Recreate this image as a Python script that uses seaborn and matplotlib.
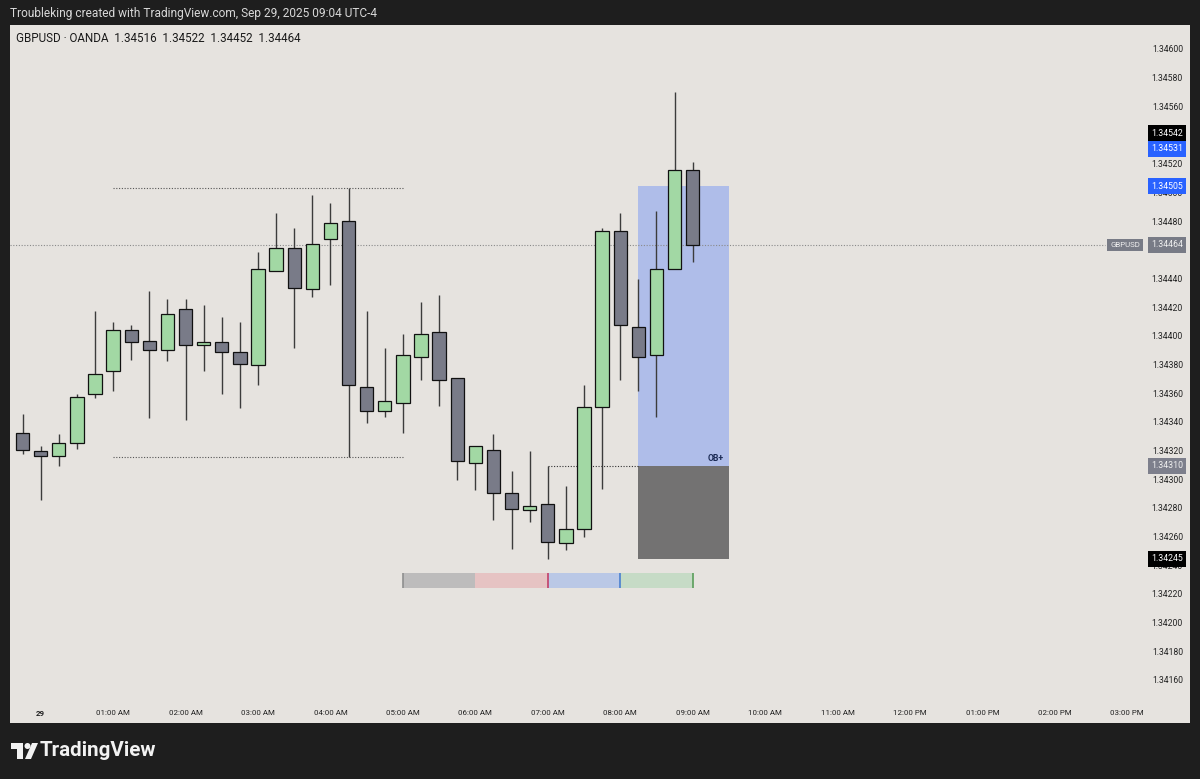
import numpy as np
import pandas as pd
import matplotlib
matplotlib.use("Agg")
import matplotlib.pyplot as plt
import matplotlib.patches as mpatches
import matplotlib.transforms as mtransforms
import seaborn as sns

# ---------------- data ----------------
times = ["23:45", "00:00", "00:15", "00:30", "00:45", "01:00", "01:15", "01:30", "01:45",
         "02:00", "02:15", "02:30", "02:45", "03:00", "03:15", "03:30", "03:45", "04:00",
         "04:15", "04:30", "04:45", "05:00", "05:15", "05:30", "05:45", "06:00", "06:15",
         "06:30", "06:45", "07:00", "07:15", "07:30", "07:45", "08:00", "08:15", "08:30",
         "08:45", "09:00"]
opens = [1.34333, 1.34320, 1.34317, 1.34326, 1.34360, 1.34376, 1.34405, 1.34397, 1.34391,
         1.34419, 1.34394, 1.34396, 1.34389, 1.34380, 1.34446, 1.34462, 1.34433, 1.34468,
         1.34481, 1.34365, 1.34348, 1.34354, 1.34386, 1.34403, 1.34371, 1.34312, 1.34321,
         1.34291, 1.34279, 1.34283, 1.34256, 1.34266, 1.34351, 1.34474, 1.34407, 1.34387,
         1.34447, 1.34516]
highs = [1.34346, 1.34324, 1.34332, 1.34360, 1.34418, 1.34410, 1.34408, 1.34432, 1.34426,
         1.34426, 1.34422, 1.34414, 1.34410, 1.34459, 1.34486, 1.34476, 1.34499, 1.34493,
         1.34504, 1.34418, 1.34392, 1.34402, 1.34424, 1.34429, 1.34371, 1.34324, 1.34332,
         1.34306, 1.34320, 1.34310, 1.34296, 1.34366, 1.34476, 1.34486, 1.34440, 1.34488,
         1.34571, 1.34522]
lows = [1.34318, 1.34286, 1.34310, 1.34322, 1.34357, 1.34362, 1.34384, 1.34343, 1.34383,
        1.34342, 1.34376, 1.34360, 1.34350, 1.34366, 1.34446, 1.34392, 1.34428, 1.34436,
        1.34316, 1.34340, 1.34344, 1.34333, 1.34370, 1.34352, 1.34300, 1.34293, 1.34272,
        1.34252, 1.34271, 1.34245, 1.34251, 1.34260, 1.34294, 1.34370, 1.34362, 1.34344,
        1.34447, 1.34452]
closes = [1.34321, 1.34317, 1.34326, 1.34358, 1.34374, 1.34405, 1.34396, 1.34391, 1.34416,
          1.34394, 1.34396, 1.34389, 1.34381, 1.34447, 1.34462, 1.34434, 1.34465, 1.34479,
          1.34366, 1.34348, 1.34355, 1.34387, 1.34402, 1.34370, 1.34313, 1.34324, 1.34291,
          1.34280, 1.34282, 1.34257, 1.34266, 1.34351, 1.34474, 1.34408, 1.34386, 1.34447,
          1.34516, 1.34464]

price_ticks = [1.34160, 1.34180, 1.34200, 1.34220, 1.34240, 1.34260, 1.34280, 1.34300,
               1.34320, 1.34340, 1.34360, 1.34380, 1.34400, 1.34420, 1.34440, 1.34460,
               1.34480, 1.34500, 1.34520, 1.34540, 1.34560, 1.34580, 1.34600]
time_ticks = [0, 1, 2, 3, 4, 5, 6, 7, 8, 9, 10, 11, 12, 13, 14, 15]
time_labels = ["29", "01:00 AM", "02:00 AM", "03:00 AM", "04:00 AM", "05:00 AM", "06:00 AM",
               "07:00 AM", "08:00 AM", "09:00 AM", "10:00 AM", "11:00 AM", "12:00 PM",
               "01:00 PM", "02:00 PM", "03:00 PM"]

range_high = 1.34504
range_low = 1.34316
range_start, range_end = 1.0, 5.0
ob_top, ob_mid, ob_bottom = 1.34505, 1.34310, 1.34245
ob_start, ob_end = 8.25, 9.5
ob_line_start = 7.0
last_price = 1.34464
strip_times = [5.0, 6.0, 7.0, 8.0, 9.0]
strip_colors = ["#bdbcbc", "#e6c3c3", "#bac8e6", "#c6dbc6"]
strip_tick_colors = ["#8f8f8f", None, "#c2406a", "#4a7fd0", "#5a9e5a"]
strip_lo, strip_hi = 1.34225, 1.34235

side_labels = [(1.34542, "#000000", "#ffffff"), (1.34531, "#2962ff", "#ffffff"),
               (1.34505, "#2962ff", "#ffffff"), (1.34464, "#787b86", "#f0f0f0"),
               (1.34310, "#7d7f8c", "#f0f0f0"), (1.34245, "#000000", "#ffffff")]

# ---------------- frame ----------------
df = pd.DataFrame({"time": times, "open": opens, "high": highs, "low": lows, "close": closes})
hh = df["time"].str.slice(0, 2).astype(int)
mm = df["time"].str.slice(3, 5).astype(int)
df["x"] = np.where(hh > 12, hh - 24, hh) + mm / 60.0
df["up"] = df["close"] >= df["open"]

sns.set_theme(style="white")
plt.rcParams["font.family"] = ["Roboto", "DejaVu Sans"]

BG = "#1e1e1e"
PANEL = "#e6e3df"
W, H = 1200, 779
fig = plt.figure(figsize=(12, 7.79), dpi=100, facecolor=BG)
ax = fig.add_axes([10 / W, (H - 723) / H, 1180 / W, 698 / H])
ax.set_facecolor(PANEL)
for s in ax.spines.values():
    s.set_visible(False)
ax.set_xticks([])
ax.set_yticks([])

x0_px, px_per_h = 40.7, 72.44
ax.set_xlim((10 - x0_px) / px_per_h, (1190 - x0_px) / px_per_h)
ax.set_ylim(1.346 - 673 / 143350, 1.346 + 25 / 143350)

# OB zone
ax.add_patch(mpatches.Rectangle((ob_start, ob_mid), ob_end - ob_start, ob_top - ob_mid,
                                facecolor="#afbde9", edgecolor="none", zorder=1))
ax.add_patch(mpatches.Rectangle((ob_start, ob_bottom), ob_end - ob_start, ob_mid - ob_bottom,
                                facecolor="#737272", edgecolor="none", zorder=1))
ax.text(9.32, 1.343147, "OB+", fontsize=6.2, fontweight="bold", color="#1b2a55",
        ha="center", va="center", zorder=5)

# range lines
ax.hlines([range_high, range_low], range_start, range_end, colors="#555555",
          linestyles=(0, (1, 1.5)), linewidth=0.8, zorder=2)
ax.hlines(ob_mid, ob_line_start, ob_start, colors="#333333",
          linestyles=(0, (1, 1.5)), linewidth=0.8, zorder=2)
ax.hlines(last_price, ax.get_xlim()[0], (1105 - x0_px) / px_per_h, colors="#8a8a8a",
          linestyles=(0, (1, 1.5)), linewidth=0.8, zorder=2)

# candles
bw = 13.3 / px_per_h
ax.vlines(df["x"], df["low"], df["high"], colors="#3c3c3c", linewidth=1.0, zorder=3)
for up, fill in [(True, "#a2d8a4"), (False, "#797b88")]:
    d = df[df["up"] == up]
    bottoms = np.minimum(d["open"], d["close"])
    heights = np.maximum(np.abs(d["close"] - d["open"]), 0.000015)
    ax.bar(d["x"], heights, bottom=bottoms, width=bw, color=fill,
           edgecolor="#111111", linewidth=0.9, zorder=4)

# session strip
for i, c in enumerate(strip_colors):
    ax.add_patch(mpatches.Rectangle((strip_times[i], strip_lo), strip_times[i + 1] - strip_times[i],
                                    strip_hi - strip_lo, facecolor=c, edgecolor="none", zorder=2))
for t, c in zip(strip_times, strip_tick_colors):
    if c:
        ax.vlines(t, strip_lo, strip_hi, colors=c, linewidth=1.2, zorder=3)

# axis labels (inside the panel, TradingView style)
trans_y = mtransforms.blended_transform_factory(ax.transAxes, ax.transData)
covered = [p for p, _, _ in side_labels]
for p in price_ticks:
    if any(abs(p - c) < 0.000045 for c in covered):
        continue  # hidden behind a price marker, as in the reference
    ax.text((1183 - 10) / 1180, p, f"{p:.5f}", transform=trans_y, ha="right", va="center",
            fontsize=6.2, color="#222222", zorder=6)
for p, bg, fg in side_labels:
    ax.text((1183 - 10) / 1180, p, f"{p:.5f}", transform=trans_y, ha="right", va="center",
            fontsize=6.3, color=fg, zorder=8,
            bbox=dict(boxstyle="square,pad=0.38", facecolor=bg, edgecolor="none"))
ax.text((1140 - 10) / 1180, last_price, "GBPUSD", transform=trans_y, ha="right", va="center",
        fontsize=5.7, color="#eeeeee", zorder=8,
        bbox=dict(boxstyle="square,pad=0.38", facecolor="#787b86", edgecolor="none"))

trans_x = mtransforms.blended_transform_factory(ax.transData, ax.transAxes)
for t, lab in zip(time_ticks, time_labels):
    ax.text(t, 10 / 698, lab, transform=trans_x, ha="center", va="center",
            fontsize=5.7, color="#222222", fontweight="bold" if lab == "29" else "normal")

ax.text(6 / 1180, 1 - 14 / 698, "GBPUSD \u00b7 OANDA  1.34516  1.34522  1.34452  1.34464",
        transform=ax.transAxes, ha="left", va="center", fontsize=8.4, color="#1a1a1a")

# header / footer
fig.text(10 / W, 1 - 13 / H, "Troubleking created with TradingView.com, Sep 29, 2025 09:04 UTC-4",
         ha="left", va="center", fontsize=8.6, color="#d8d8d8")

def fx(px):
    return px / W

def fy(py):
    return 1 - py / H

logo_c = "#f2f2f2"
fig.patches.append(mpatches.Rectangle((fx(11), fy(749)), fx(12), 6 / H, transform=fig.transFigure,
                                      facecolor=logo_c, edgecolor="none"))
fig.patches.append(mpatches.Rectangle((fx(17), fy(759)), fx(6), 16 / H, transform=fig.transFigure,
                                      facecolor=logo_c, edgecolor="none"))
fig.patches.append(mpatches.Ellipse((fx(27.5), fy(746)), fx(6), 6 / H, transform=fig.transFigure,
                                    facecolor=logo_c, edgecolor="none"))
fig.patches.append(mpatches.Polygon([(fx(25), fy(759)), (fx(31), fy(759)), (fx(38), fy(743)),
                                     (fx(32), fy(743))], closed=True, transform=fig.transFigure,
                                    facecolor=logo_c, edgecolor="none"))
fig.text(fx(40), fy(751), "TradingView", ha="left", va="center", fontsize=14.8,
         fontweight="semibold", color=logo_c)

fig.savefig("out.png", dpi=100, facecolor=BG)
